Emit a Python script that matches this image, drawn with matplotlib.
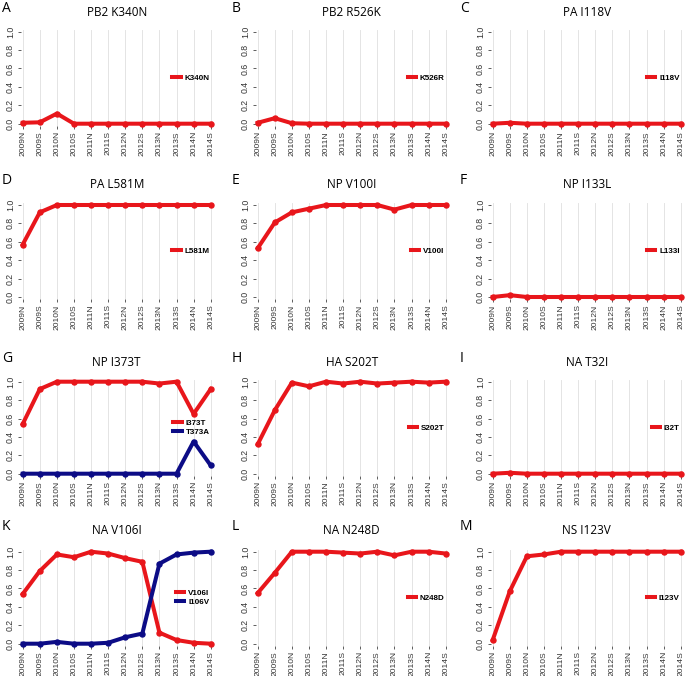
import numpy as np
import matplotlib
matplotlib.use("Agg")
import matplotlib.pyplot as plt

seasons = ["2009N", "2009S", "2010N", "2010S", "2011N", "2011S",
           "2012N", "2012S", "2013N", "2013S", "2014N", "2014S"]

letters = ["A", "B", "C", "D", "E", "F", "G", "H", "I", "K", "L", "M"]
titles = ["PB2 K340N", "PB2 R526K", "PA I118V",
          "PA L581M", "NP V100I", "NP I133L",
          "NP I373T", "HA S202T", "NA T32I",
          "NA V106I", "NA N248D", "NS I123V"]

# first series (red) of every panel
red_names = ["K340N", "K526R", "I118V", "L581M", "V100I", "L133I",
             "I373T", "S202T", "I32T", "V106I", "N248D", "I123V"]
red_vals = [
    [0.01, 0.015, 0.11, 0.0, 0.0, 0.0, 0.0, 0.0, 0.0, 0.0, 0.0, 0.0],
    [0.01, 0.06, 0.005, 0.0, 0.0, 0.0, 0.0, 0.0, 0.0, 0.0, 0.0, 0.0],
    [0.0, 0.01, 0.0, 0.0, 0.0, 0.0, 0.0, 0.0, 0.0, 0.0, 0.0, 0.0],
    [0.57, 0.92, 1.0, 1.0, 1.0, 1.0, 1.0, 1.0, 1.0, 1.0, 1.0, 1.0],
    [0.53, 0.81, 0.92, 0.96, 1.0, 1.0, 1.0, 1.0, 0.95, 1.0, 1.0, 1.0],
    [0.0, 0.02, 0.0, 0.0, 0.0, 0.0, 0.0, 0.0, 0.0, 0.0, 0.0, 0.0],
    [0.54, 0.92, 1.0, 1.0, 1.0, 1.0, 1.0, 1.0, 0.98, 1.0, 0.65, 0.92],
    [0.32, 0.69, 0.99, 0.95, 1.0, 0.98, 1.0, 0.98, 0.99, 1.0, 0.99, 1.0],
    [0.0, 0.01, 0.0, 0.0, 0.0, 0.0, 0.0, 0.0, 0.0, 0.0, 0.0, 0.0],
    [0.54, 0.79, 0.97, 0.94, 1.0, 0.98, 0.93, 0.89, 0.12, 0.04, 0.01, 0.0],
    [0.55, 0.77, 1.0, 1.0, 1.0, 0.99, 0.98, 1.0, 0.96, 1.0, 1.0, 0.98],
    [0.04, 0.57, 0.95, 0.97, 1.0, 1.0, 1.0, 1.0, 1.0, 1.0, 1.0, 1.0],
]

# second series (blue), only panels G and K
blue_names = {6: "T373A", 9: "I106V"}
blue_vals = {
    6: [0.0, 0.0, 0.0, 0.0, 0.0, 0.0, 0.0, 0.0, 0.0, 0.0, 0.35, 0.09],
    9: [0.0, 0.0, 0.02, 0.0, 0.0, 0.01, 0.07, 0.11, 0.87, 0.97, 0.99, 1.0],
}

RED = "#e8161b"
BLUE = "#0c0c86"

W, H = 685, 676
fig = plt.figure(figsize=(W / 100, H / 100), dpi=100)

col_x0 = [22.7, 257.7, 492.7]      # pixel of first point
span_x = 188.0
row_top = [31.7, 205.0, 381.7, 551.7]  # pixel of y = 1.0
span_y = 92.0
title_y = [13, 185, 362, 530]
letter_x = [2, 232, 460]

xpad = 0.12
ypad = 0.02
x = np.arange(len(seasons))

for k in range(12):
    r, c = divmod(k, 3)
    wpx = span_x * (11 + 2 * xpad) / 11
    hpx = span_y * (1 + 2 * ypad)
    left = col_x0[c] - xpad * span_x / 11
    top = row_top[r] - ypad * span_y
    ax = fig.add_axes([left / W, 1 - (top + hpx) / H, wpx / W, hpx / H])

    ax.plot(x, red_vals[k], color=RED, lw=2.9, marker="o", ms=3.6,
            label=red_names[k], clip_on=False, zorder=3)
    if k in blue_vals:
        ax.plot(x, blue_vals[k], color=BLUE, lw=2.9, marker="o", ms=3.6,
                label=blue_names[k], clip_on=False, zorder=3)

    ax.set_xlim(-xpad, 11 + xpad)
    ax.set_ylim(-ypad, 1 + ypad)
    ax.set_xticks(x)
    ax.set_xticklabels(seasons, rotation=90, fontsize=6.1,
                       family="Liberation Sans", color="#333333")
    ax.set_yticks([0, 0.2, 0.4, 0.6, 0.8, 1.0])
    ax.set_yticklabels(["0.0", "0.2", "0.4", "0.6", "0.8", "1.0"],
                       rotation=90, va="center", fontsize=6.3,
                       family="Liberation Sans", color="#333333")
    ax.tick_params(axis="both", length=2.5, width=0.6, pad=1.5, color="#444444")
    ax.grid(axis="x", color="#e4e4e4", lw=0.7)
    ax.set_axisbelow(True)
    for s in ax.spines.values():
        s.set_visible(False)

    ax.legend(loc="center right", bbox_to_anchor=(1.0, 0.5), frameon=False,
              borderaxespad=0, handlelength=1.0, handletextpad=0.5,
              labelspacing=0.15, markerscale=0.0001,
              prop={"family": "Liberation Sans", "weight": "bold", "size": 5.8})

    fig.text((col_x0[c] + span_x / 2) / W, 1 - title_y[r] / H, titles[k],
             ha="center", va="center", fontsize=8.5, family="Open Sans")
    fig.text(letter_x[c] / W, 1 - (title_y[r] - 4) / H, letters[k],
             ha="left", va="center", fontsize=10, family="Open Sans")

fig.savefig("out.png", dpi=100)
